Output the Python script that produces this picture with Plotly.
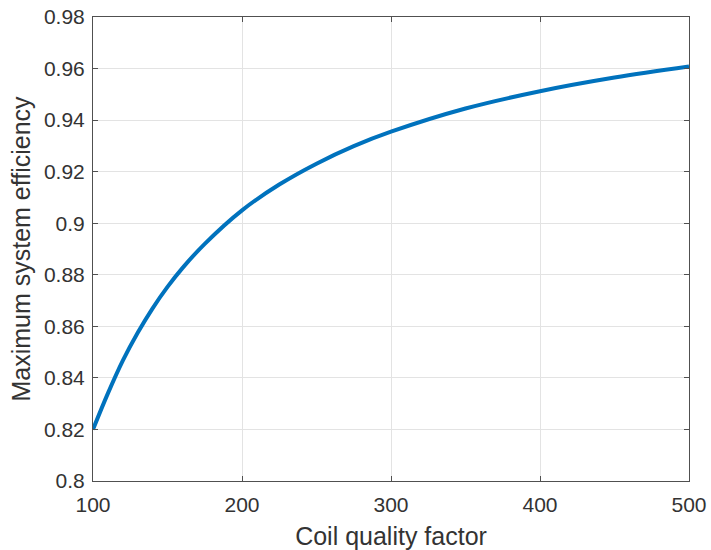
import plotly.graph_objects as go

quality_factor = [100, 110, 120, 130, 140, 150, 160, 175, 200, 225, 250, 275, 300, 350, 400, 450, 500]
max_efficiency = [0.820, 0.834, 0.8467, 0.8575, 0.867, 0.8753, 0.8826, 0.892, 0.905, 0.915, 0.9231,
                  0.9299, 0.9355, 0.9445, 0.9512, 0.9565, 0.9608]
x_ticks = [100, 200, 300, 400, 500]
y_ticks = [0.8, 0.82, 0.84, 0.86, 0.88, 0.9, 0.92, 0.94, 0.96, 0.98]
y_tick_text = ["0.8", "0.82", "0.84", "0.86", "0.88", "0.9", "0.92", "0.94", "0.96", "0.98"]

fig = go.Figure()
fig.add_trace(go.Scatter(x=quality_factor, y=max_efficiency, mode="lines",
                         line=dict(color="#0072BD", width=4, shape="spline"),
                         showlegend=False))

axis_common = dict(showline=True, linecolor="#505050", linewidth=1, mirror="ticks",
                   ticks="inside", ticklen=5, tickcolor="#505050",
                   showgrid=True, gridcolor="#e3e3e3", gridwidth=1, zeroline=False,
                   automargin=False,
                   tickfont=dict(family="Liberation Sans, Arial", size=21, color="#333333"))

fig.update_layout(
    width=711, height=550,
    margin=dict(l=93, r=22, t=17, b=69),
    paper_bgcolor="white", plot_bgcolor="white",
    font=dict(family="Liberation Sans, Arial", color="#333333"),
    xaxis=dict(range=[100, 500], tickvals=x_ticks, ticklabelstandoff=5,
               title=dict(text="Coil quality factor", font=dict(size=25, color="#333333"), standoff=12),
               **axis_common),
    yaxis=dict(range=[0.8, 0.98], tickvals=y_ticks, ticktext=y_tick_text, ticklabelstandoff=3,
               title=dict(text="Maximum system efficiency", font=dict(size=25, color="#333333"), standoff=6),
               **axis_common),
)

fig.write_html("out.html")
